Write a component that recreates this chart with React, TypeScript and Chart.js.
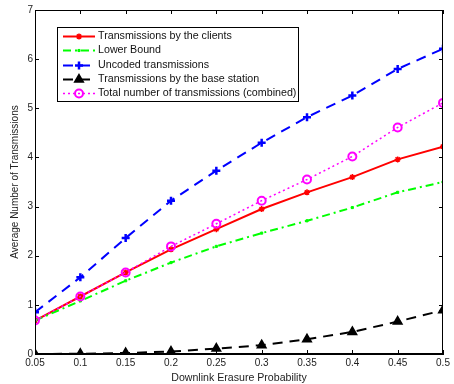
import React, { useEffect, useRef } from "react";
import { Chart, registerables } from "chart.js";
import { drawPoint } from "chart.js/helpers";

Chart.register(...registerables);

const erasureProb = [0.05, 0.1, 0.15, 0.2, 0.25, 0.3, 0.35, 0.4, 0.45, 0.5];
const xTickValues = [0.05, 0.1, 0.15, 0.2, 0.25, 0.3, 0.35, 0.4, 0.45, 0.5];
const yTickValues = [0, 1, 2, 3, 4, 5, 6, 7];

const clientsTx = [0.68, 1.17, 1.66, 2.13, 2.54, 2.95, 3.29, 3.6, 3.96, 4.22];
const lowerBound = [0.68, 1.08, 1.49, 1.86, 2.19, 2.46, 2.71, 2.98, 3.29, 3.5];
const uncodedTx = [0.85, 1.56, 2.36, 3.12, 3.73, 4.3, 4.82, 5.26, 5.8, 6.21];
const baseStationTx = [0.0, 0.005, 0.02, 0.05, 0.11, 0.18, 0.3, 0.45, 0.66, 0.89];
const totalTx = [0.68, 1.17, 1.66, 2.19, 2.65, 3.12, 3.55, 4.02, 4.61, 5.11];

const seriesLabels = [
  "Transmissions by the clients",
  "Lower Bound",
  "Uncoded transmissions",
  "Transmissions by the base station",
  "Total number of transmissions (combined)",
];

const FONT = "'Liberation Sans', Arial, Helvetica, sans-serif";

const toPoints = (vals: number[]) => vals.map((v, i) => ({ x: erasureProb[i], y: v }));

const frameAndTicks = {
  id: "frameAndTicks",
  afterDatasetsDraw(chart: any) {
    const { ctx, chartArea } = chart;
    const { left, right, top, bottom } = chartArea;
    const xs = chart.scales.x;
    const ys = chart.scales.y;
    ctx.save();
    ctx.strokeStyle = "#000";
    ctx.lineWidth = 1;
    ctx.strokeRect(left + 0.5, top + 0.5, right - left - 1, bottom - top - 1);
    const tl = 4;
    ctx.beginPath();
    xTickValues.forEach((v) => {
      const px = Math.round(xs.getPixelForValue(v)) + 0.5;
      ctx.moveTo(px, bottom);
      ctx.lineTo(px, bottom - tl);
      ctx.moveTo(px, top);
      ctx.lineTo(px, top + tl);
    });
    yTickValues.forEach((v) => {
      const py = Math.round(ys.getPixelForValue(v)) + 0.5;
      ctx.moveTo(left, py);
      ctx.lineTo(left + tl, py);
      ctx.moveTo(right, py);
      ctx.lineTo(right - tl, py);
    });
    ctx.stroke();
    ctx.restore();
  },
};

const customLegend = {
  id: "customLegend",
  afterDraw(chart: any) {
    const { ctx, chartArea } = chart;
    const bx = chartArea.left + 22;
    const by = chartArea.top + 17;
    const bw = 241;
    const bh = 74;
    ctx.save();
    ctx.fillStyle = "#fff";
    ctx.fillRect(bx, by, bw, bh);
    ctx.strokeStyle = "#000";
    ctx.lineWidth = 1;
    ctx.strokeRect(bx + 0.5, by + 0.5, bw, bh);
    const rowH = 14.25;
    chart.data.datasets.forEach((ds: any, i: number) => {
      const cy = Math.round(by + 9 + i * rowH) + 0.5;
      const x0 = bx + 6;
      const x1 = bx + 38;
      ctx.save();
      ctx.strokeStyle = ds.borderColor;
      ctx.lineWidth = ds.borderWidth;
      ctx.setLineDash(ds.borderDash || []);
      ctx.beginPath();
      ctx.moveTo(x0, cy);
      ctx.lineTo(x1, cy);
      ctx.stroke();
      ctx.setLineDash([]);
      ctx.fillStyle = ds.pointBackgroundColor;
      ctx.strokeStyle = ds.pointBorderColor;
      ctx.lineWidth = ds.pointBorderWidth;
      drawPoint(
        ctx,
        { pointStyle: ds.pointStyle, radius: ds.pointRadius, rotation: 0, borderWidth: ds.pointBorderWidth } as any,
        (x0 + x1) / 2,
        cy
      );
      ctx.restore();
      ctx.fillStyle = "#111";
      ctx.font = `10.7px ${FONT}`;
      ctx.textBaseline = "middle";
      ctx.textAlign = "left";
      ctx.fillText(ds.label, bx + 41, cy);
    });
    ctx.restore();
  },
};

export default function App() {
  const canvasRef = useRef<HTMLCanvasElement | null>(null);

  useEffect(() => {
    document.body.style.margin = "0";
    const canvas = canvasRef.current;
    if (!canvas) return;
    const chart = new Chart(canvas, {
      type: "line",
      data: {
        datasets: [
          {
            label: seriesLabels[0],
            data: toPoints(clientsTx),
            borderColor: "#ff0000",
            borderWidth: 2,
            borderDash: [],
            pointStyle: "star",
            pointRadius: 3,
            pointBorderWidth: 1.5,
            pointBackgroundColor: "#ff0000",
            pointBorderColor: "#ff0000",
            order: 4,
          },
          {
            label: seriesLabels[1],
            data: toPoints(lowerBound),
            borderColor: "#00ff00",
            borderWidth: 2,
            borderDash: [8, 4, 2, 4],
            pointStyle: "rect",
            pointRadius: 1.5,
            pointBorderWidth: 1,
            pointBackgroundColor: "#00ff00",
            pointBorderColor: "#00ff00",
            order: 3,
          },
          {
            label: seriesLabels[2],
            data: toPoints(uncodedTx),
            borderColor: "#0000ff",
            borderWidth: 2,
            borderDash: [10, 7],
            pointStyle: "cross",
            pointRadius: 4,
            pointBorderWidth: 2.5,
            pointBackgroundColor: "#0000ff",
            pointBorderColor: "#0000ff",
            order: 2,
          },
          {
            label: seriesLabels[3],
            data: toPoints(baseStationTx),
            borderColor: "#000000",
            borderWidth: 2,
            borderDash: [10, 7],
            pointStyle: "triangle",
            pointRadius: 5,
            pointBorderWidth: 1.5,
            pointBackgroundColor: "#000000",
            pointBorderColor: "#000000",
            order: 1,
          },
          {
            label: seriesLabels[4],
            data: toPoints(totalTx),
            borderColor: "#ff00ff",
            borderWidth: 1.5,
            borderDash: [2, 3],
            pointStyle: "circle",
            pointRadius: 4,
            pointBorderWidth: 2,
            pointBackgroundColor: "rgba(0,0,0,0)",
            pointBorderColor: "#ff00ff",
            order: 0,
          },
        ] as any,
      },
      options: {
        animation: false,
        responsive: false,
        maintainAspectRatio: false,
        devicePixelRatio: 1,
        layout: { padding: { left: 0, right: 11, top: 10, bottom: 0 } },
        elements: { line: { tension: 0 } },
        plugins: {
          legend: { display: false },
          tooltip: { enabled: false },
        },
        scales: {
          x: {
            type: "linear",
            min: 0.05,
            max: 0.5,
            afterBuildTicks: (scale: any) => {
              scale.ticks = xTickValues.map((v) => ({ value: v }));
            },
            afterFit: (scale: any) => {
              scale.height = 30;
            },
            grid: { display: false, drawTicks: false },
            border: { display: true, color: "#000", width: 1 },
            ticks: {
              padding: 3,
              color: "#222",
              font: { family: FONT, size: 10 },
              maxRotation: 0,
              autoSkip: false,
              callback: (v: any) => String(Number(Number(v).toFixed(2))),
            },
            title: {
              display: true,
              text: "Downlink Erasure Probability",
              color: "#222",
              font: { family: FONT, size: 10.6 },
              padding: { top: 0, bottom: 0 },
            },
          },
          y: {
            type: "linear",
            min: 0,
            max: 7,
            afterBuildTicks: (scale: any) => {
              scale.ticks = yTickValues.map((v) => ({ value: v }));
            },
            afterFit: (scale: any) => {
              scale.width = 35;
            },
            grid: { display: false, drawTicks: false },
            border: { display: true, color: "#000", width: 1 },
            ticks: {
              padding: 2,
              color: "#222",
              font: { family: FONT, size: 10 },
              autoSkip: false,
            },
            title: {
              display: true,
              text: "Average Number of Transmissions",
              color: "#222",
              font: { family: FONT, size: 10 },
              padding: { top: 9, bottom: 0 },
            },
          },
        },
      },
      plugins: [frameAndTicks, customLegend],
    });
    return () => chart.destroy();
  }, []);

  return (
    <div style={{ position: "absolute", left: 0, top: 0, width: 454, height: 384 }}>
      <canvas ref={canvasRef} width={454} height={384} style={{ display: "block" }} />
    </div>
  );
}
